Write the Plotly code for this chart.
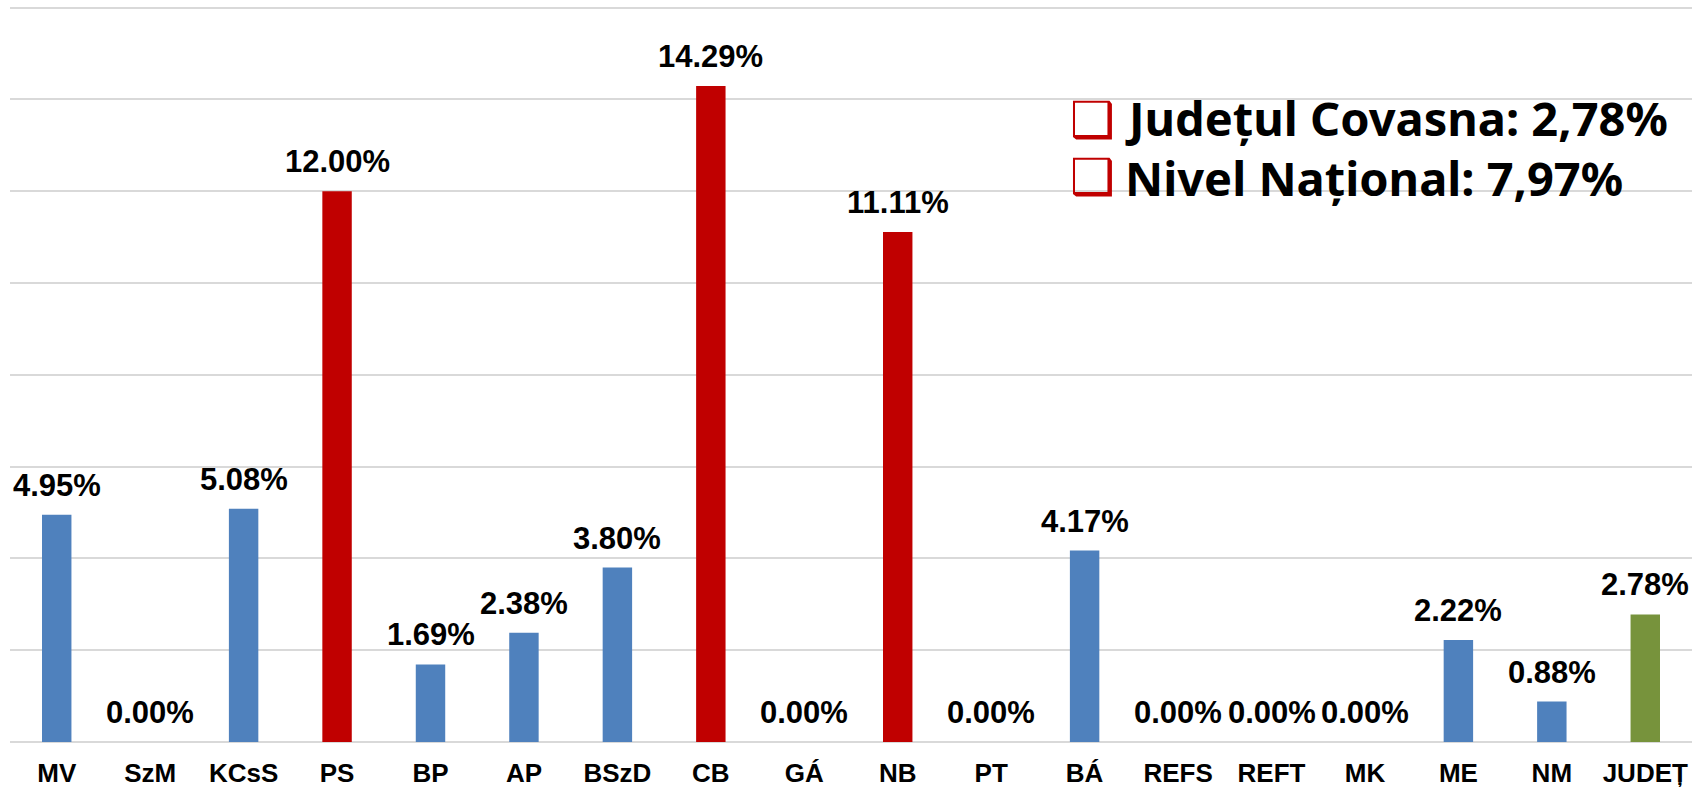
import plotly.graph_objects as go

categories = ["MV", "SzM", "KCsS", "PS", "BP", "AP", "BSzD", "CB", "GÁ", "NB",
              "PT", "BÁ", "REFS", "REFT", "MK", "ME", "NM", "JUDEȚ"]
values = [4.95, 0.00, 5.08, 12.00, 1.69, 2.38, 3.80, 14.29, 0.00, 11.11,
          0.00, 4.17, 0.00, 0.00, 0.00, 2.22, 0.88, 2.78]
bar_colors = ["#4F81BD", "#4F81BD", "#4F81BD", "#C00000", "#4F81BD", "#4F81BD",
              "#4F81BD", "#C00000", "#4F81BD", "#C00000", "#4F81BD", "#4F81BD",
              "#4F81BD", "#4F81BD", "#4F81BD", "#4F81BD", "#4F81BD", "#77933C"]
legend_lines = ["Județul Covasna: 2,78%", "Nivel Național: 7,97%"]

fig = go.Figure()
fig.add_trace(go.Bar(
    x=categories, y=values,
    marker=dict(color=bar_colors, line=dict(width=0)),
    width=0.315,
    hoverinfo="skip",
))

for c, v in zip(categories, values):
    fig.add_annotation(x=c, y=v, xref="x", yref="y", showarrow=False,
                       yanchor="bottom", yshift=10,
                       text=f"<b>{v:.2f}%</b>",
                       font=dict(family="Liberation Sans, Arial", size=31, color="black"))

fig.update_layout(
    width=1700, height=792,
    margin=dict(l=10, r=8, t=0, b=50),
    plot_bgcolor="white", paper_bgcolor="white",
    showlegend=False,
)
fig.update_yaxes(range=[0, 16.166], dtick=2, tick0=0, showticklabels=False,
                 showgrid=True, gridcolor="#D9D9D9", gridwidth=1.5,
                 zeroline=True, zerolinecolor="#D9D9D9", zerolinewidth=1.5)
fig.update_xaxes(showgrid=False, showline=False, ticks="",
                 tickfont=dict(family="Liberation Sans, Arial", size=26, color="black", weight="bold"),
                 ticklabelstandoff=13)

bullet_ys = [0.8383, 0.7614]
text_ys = [0.8410, 0.7601]
for line, by, ty in zip(legend_lines, bullet_ys, text_ys):
    fig.add_annotation(xref="paper", yref="paper", x=0.6436, y=by,
                       xanchor="center", yanchor="middle", showarrow=False,
                       text="❑", font=dict(family="DejaVu Sans", size=50, color="#C00000"))
    fig.add_annotation(xref="paper", yref="paper", x=0.6616, y=ty,
                       xanchor="left", yanchor="middle", showarrow=False,
                       text=f"<b>{line}</b>",
                       font=dict(family="Noto Sans", size=47, color="black"))

fig.write_html(
    "out.html",
    config={"displayModeBar": False},
    post_script="document.documentElement.style.margin='0';document.body.style.margin='0';"
                "document.body.style.padding='0';document.body.style.overflow='hidden';"
                "document.documentElement.style.overflow='hidden';",
)
